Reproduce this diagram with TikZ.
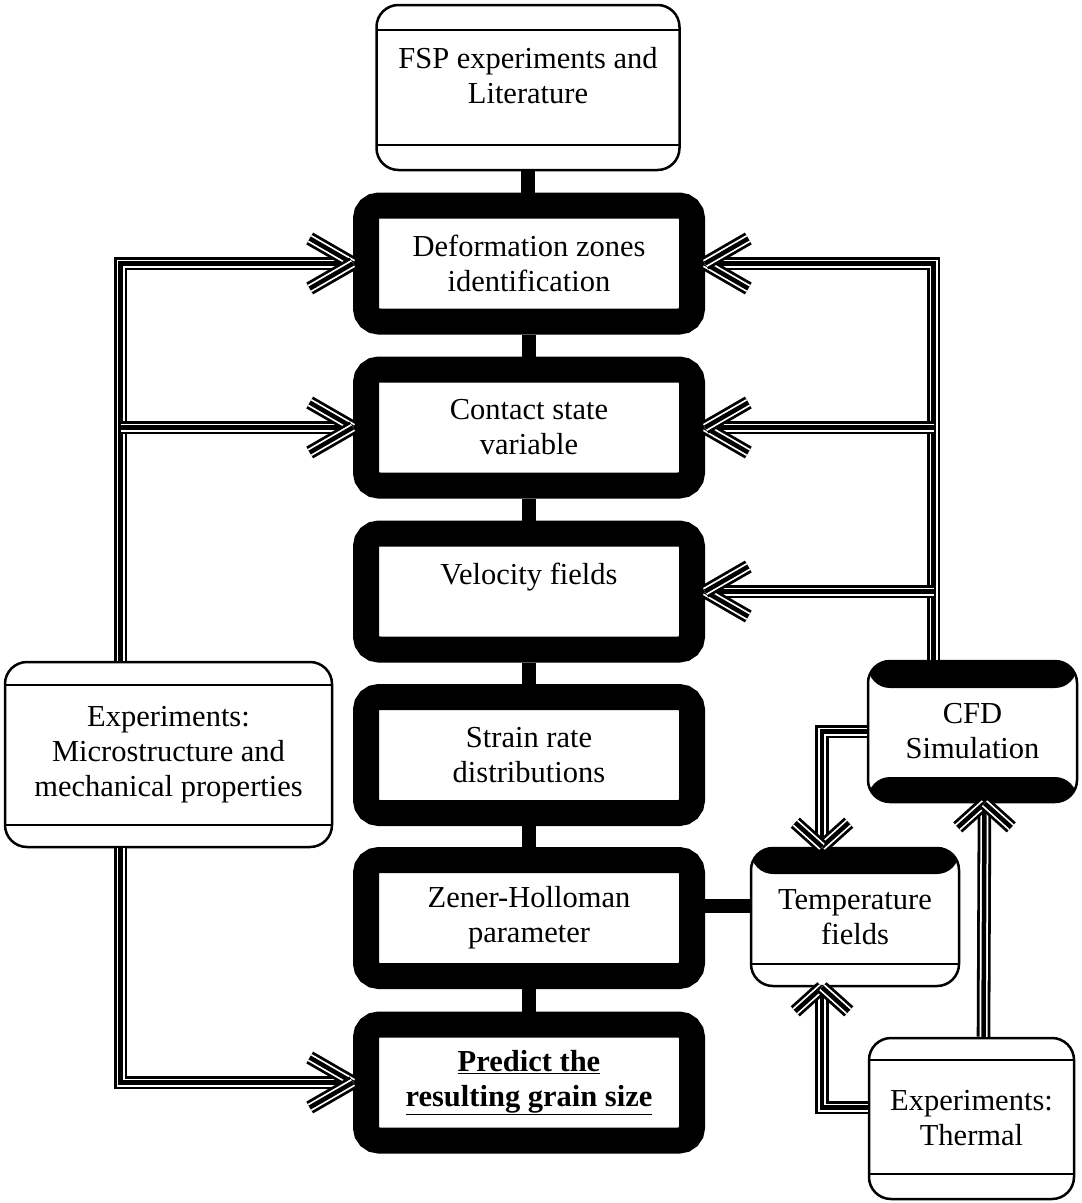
\documentclass[tikz,border=0pt]{standalone}
\usepackage{fontspec}
\setmainfont{Liberation Serif}
\newcommand\forkhead[4]{%
  \draw[tl] (#1) -- ++(#2+#3:#4);
  \draw[tl] (#1) -- ++(#2-#3:#4);}
\begin{document}
\begin{tikzpicture}[x=1pt,y=-1pt,
  txt/.style={font=\fontsize{30.5}{35}\selectfont, align=center, inner sep=0pt},
  pbox/.style 2 args={txt, draw, line width=2.5pt, rounded corners=22pt,
    path picture={
      \draw[line width=2pt] ([yshift=-#1]path picture bounding box.north west) -- ([yshift=-#1]path picture bounding box.north east);
      \draw[line width=2pt] ([yshift=#2]path picture bounding box.south west) -- ([yshift=#2]path picture bounding box.south east);}},
  cbox/.style={txt, draw, line width=26pt, rounded corners=13pt,
    minimum width=326pt, minimum height=116pt},
  bandbox/.style 2 args={txt, draw, line width=2.5pt, rounded corners=22pt,
    path picture={
      \fill[black] (path picture bounding box.north west) rectangle ([yshift=-#1]path picture bounding box.north east);
      \fill[black] (path picture bounding box.south west) rectangle ([yshift=#2]path picture bounding box.south east);}},
  topbandbox/.style 2 args={txt, draw, line width=2.5pt, rounded corners=22pt,
    path picture={
      \fill[black] (path picture bounding box.north west) rectangle ([yshift=-#1]path picture bounding box.north east);
      \draw[line width=2pt] ([yshift=#2]path picture bounding box.south west) -- ([yshift=#2]path picture bounding box.south east);}},
  tl/.style={line width=4.5pt, preaction={draw, double=white, double distance=8pt, line width=2.8pt}},
  tk/.style={line width=14pt}
]
\useasboundingbox (0,0) rectangle (1082,1203);

% nodes
\node[pbox={25pt}{25pt}, minimum width=303pt, minimum height=165pt] (fsp) at (528,87.5) {FSP experiments and\\Literature\\[-10pt]\mbox{}};
\node[cbox] (b1) at (529,263.5) {Deformation zones\\identification};
\node[cbox] (b2) at (529,427.5) {Contact state\\variable};
\node[cbox] (b3) at (529,591.5) {Velocity fields\\\mbox{}};
\node[cbox] (b4) at (529,755) {Strain rate\\distributions};
\node[cbox] (b5) at (529,918) {Zener-Holloman\\parameter};
\node[cbox] (b6) at (529,1082.5) {\bfseries\underline{Predict the}\\\bfseries\underline{resulting grain size}};
\node[pbox={23pt}{22pt}, minimum width=327pt, minimum height=185pt] (micro) at (168.5,754.5) {Experiments:\\Microstructure and\\mechanical properties};
\node[bandbox={27pt}{25pt}, minimum width=209pt, minimum height=141pt] (cfd) at (972.5,731.5) {CFD\\Simulation};
\node[topbandbox={26pt}{22pt}, minimum width=208pt, minimum height=138pt] (temp) at (855,917) {Temperature\\fields};
\node[pbox={22pt}{25pt}, minimum width=205pt, minimum height=161pt] (therm) at (971.5,1118.5) {Experiments:\\Thermal};

% thick connectors
\draw[tk] (fsp.south) -- (fsp.south |- b1.north);
\draw[tk] (b1.south) -- (b2.north);
\draw[tk] (b2.south) -- (b3.north);
\draw[tk] (b3.south) -- (b4.north);
\draw[tk] (b4.south) -- (b5.north);
\draw[tk] (b5.south) -- (b6.north);
\draw[tk] ([yshift=12pt]b5.east) -- ([yshift=12pt]b5.east -| temp.west);

% left triple connectors
\draw[tl] ([xshift=-48pt]micro.north) |- (b1.west);
\draw[tl] ([xshift=-48pt]micro.north |- b2.west) -- (b2.west);
\draw[tl] ([xshift=-48pt]micro.south) |- (b6.west);
\forkhead{b1.west}{180}{30}{50}
\forkhead{b2.west}{180}{30}{50}
\forkhead{b6.west}{180}{30}{50}

% right triple connectors
\draw[tl] ([xshift=-39pt]cfd.north) |- (b1.east);
\draw[tl] ([xshift=-39pt]cfd.north |- b2.east) -- (b2.east);
\draw[tl] ([xshift=-39pt]cfd.north |- b3.east) -- (b3.east);
\forkhead{b1.east}{0}{30}{50}
\forkhead{b2.east}{0}{30}{50}
\forkhead{b3.east}{0}{30}{50}

% CFD / temperature / thermal
\coordinate (tn) at ([xshift=-33pt]temp.north);
\coordinate (ts) at ([xshift=-33pt]temp.south);
\coordinate (cs) at ([xshift=12pt]cfd.south);
\draw[tl] (cfd.west) -| (tn);
\draw[tl] ([yshift=11pt]therm.west) -| (ts);
\draw[tl] ([xshift=12pt]therm.north) -- (cs);
\forkhead{tn}{270}{48}{36}
\forkhead{ts}{90}{48}{36}
\forkhead{cs}{90}{48}{36}
\end{tikzpicture}
\end{document}
